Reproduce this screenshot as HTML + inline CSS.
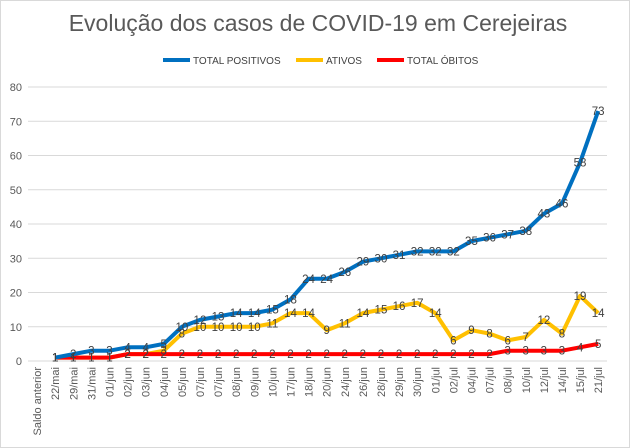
<!DOCTYPE html>
<html><head><meta charset="utf-8"><style>
body{margin:0;background:#fff}
svg{display:block;font-family:"Liberation Sans",sans-serif}
</style></head><body>
<svg id="s" width="630" height="448" xmlns="http://www.w3.org/2000/svg">
<rect x="0.5" y="0.5" width="629" height="447" fill="#fff" stroke="#d9d9d9"/>
<text x="318" y="31" text-anchor="middle" font-size="23" fill="#595959">Evolução dos casos de COVID-19 em Cerejeiras</text>
<line x1="163" y1="60" x2="190" y2="60" stroke="#0070c0" stroke-width="4"/>
<text x="193" y="64" font-size="10" fill="#404040">TOTAL POSITIVOS</text>
<line x1="296" y1="60" x2="323" y2="60" stroke="#ffc000" stroke-width="4"/>
<text x="326" y="64" font-size="10" fill="#404040">ATIVOS</text>
<line x1="377" y1="60" x2="404" y2="60" stroke="#ff0000" stroke-width="4"/>
<text x="407" y="64" font-size="10" fill="#404040">TOTAL ÓBITOS</text>
<g id="g"></g>
</svg>
<script>
var g=document.getElementById('g'),h='';
var y0=361,k=3.425,x0=28,w=18.1;
for(var v=0;v<=80;v+=10){var y=y0-v*k;
h+='<line x1="'+x0+'" x2="607" y1="'+y+'" y2="'+y+'" stroke="#d9d9d9"/>';
h+='<text x="22" y="'+(y+4)+'" text-anchor="end" font-size="11" fill="#595959">'+v+'</text>';}
var c=["Saldo anterior","22/mai","29/mai","31/mai","01/jun","02/jun","03/jun","04/jun","05/jun","07/jun","07/jun","08/jun","09/jun","10/jun","17/jun","18/jun","20/jun","24/jun","26/jun","28/jun","29/jun","30/jun","01/jul","02/jul","04/jul","07/jul","08/jul","10/jul","12/jul","14/jul","15/jul","21/jul"];
c.forEach(function(t,i){var x=x0+w*(i+0.5)+4;
h+='<text transform="translate('+x+',367) rotate(-90)" text-anchor="end" font-size="11" fill="#595959">'+t+'</text>';});
var P=[1,2,3,3,4,4,5,10,12,13,14,14,15,18,24,24,26,29,30,31,32,32,32,35,36,37,38,43,46,58,73];
var A=[1,1,1,1,2,2,3,8,10,10,10,10,11,14,14,9,11,14,15,16,17,14,6,9,8,6,7,12,8,19,14];
var O=[1,1,1,1,2,2,2,2,2,2,2,2,2,2,2,2,2,2,2,2,2,2,2,2,2,3,3,3,3,4,5];
function line(d,col){var p=d.map(function(v,i){return (x0+w*(i+1.5)).toFixed(1)+','+(y0-v*k).toFixed(1)}).join(' ');
h+='<polyline points="'+p+'" fill="none" stroke="'+col+'" stroke-width="4" stroke-linejoin="round"/>';}
function lab(d){d.forEach(function(v,i){h+='<text x="'+(x0+w*(i+1.5))+'" y="'+(y0-v*k+4)+'" text-anchor="middle" font-size="11.5" fill="#404040">'+v+'</text>';});}
line(A,'#ffc000');line(O,'#ff0000');line(P,'#0070c0');lab(A);lab(O);lab(P);
g.innerHTML=h;
</script>
</body></html>
